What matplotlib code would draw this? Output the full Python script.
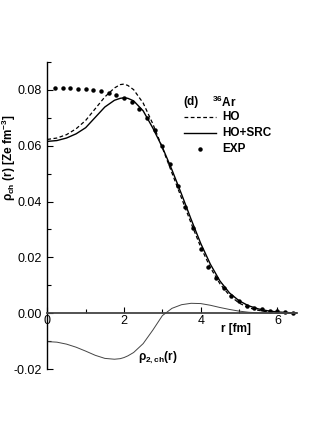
import numpy as np
import matplotlib.pyplot as plt
from matplotlib.ticker import MultipleLocator, FuncFormatter

plt.rcParams['font.family'] = ['Liberation Sans', 'DejaVu Sans']
plt.rcParams['mathtext.fontset'] = 'custom'
plt.rcParams['mathtext.rm'] = 'Liberation Sans'
plt.rcParams['mathtext.bf'] = 'Liberation Sans:bold'

# Радіальна сітка для кривих (fm)
r_curve = [0.0, 0.25, 0.5, 0.75, 1.0, 1.25, 1.5, 1.75, 1.9, 2.0, 2.1, 2.25, 2.5, 2.75, 3.0,
           3.25, 3.5, 3.75, 4.0, 4.25, 4.5, 4.75, 5.0, 5.25, 5.5, 5.75, 6.0, 6.25, 6.5]

# HO (штрихова)
rho_ho = [0.0622, 0.0627, 0.0639, 0.0660, 0.0690, 0.0732, 0.0774, 0.0806, 0.0818, 0.0820,
          0.0815, 0.0800, 0.0752, 0.0678, 0.0592, 0.0502, 0.0412, 0.0322, 0.0237, 0.0164,
          0.0106, 0.0064, 0.0037, 0.0020, 0.0011, 0.0005, 0.0003, 0.0001, 0.0]

# HO+SRC (суцільна)
rho_src = [0.0615, 0.0618, 0.0627, 0.0642, 0.0664, 0.0701, 0.0738, 0.0762, 0.0769, 0.0771,
           0.0769, 0.0760, 0.0724, 0.0663, 0.0594, 0.0513, 0.0426, 0.0336, 0.0250, 0.0176,
           0.0116, 0.0073, 0.0045, 0.0027, 0.0016, 0.0009, 0.0005, 0.0003, 0.0001]

# rho_2,ch(r)
rho_2 = [-0.0101, -0.0103, -0.0110, -0.0121, -0.0135, -0.0150, -0.0161, -0.0164, -0.0162,
         -0.0158, -0.0152, -0.0140, -0.0108, -0.0060, -0.0008, 0.0018, 0.0031, 0.0036,
         0.0035, 0.0029, 0.0021, 0.0014, 0.0008, 0.0004, 0.0002, 0.0001, 0.0, 0.0, 0.0]

# Експериментальні точки
r_exp = [0.2, 0.4, 0.6, 0.8, 1.0, 1.2, 1.4, 1.6, 1.8, 2.0, 2.2, 2.4, 2.6, 2.8, 3.0,
         3.2, 3.4, 3.6, 3.8, 4.0, 4.2, 4.4, 4.6, 4.8, 5.0, 5.2, 5.4, 5.6, 5.8, 6.0,
         6.2, 6.4]
rho_exp = [0.0806, 0.0806, 0.0805, 0.0804, 0.0803, 0.0800, 0.0794, 0.0788, 0.0780,
           0.0770, 0.0755, 0.0731, 0.0698, 0.0655, 0.0598, 0.0533, 0.0457, 0.0381,
           0.0304, 0.0229, 0.0166, 0.0125, 0.0089, 0.0062, 0.0044, 0.0027, 0.0019,
           0.0014, 0.0010, 0.0007, 0.0004, 0.0002]

fig = plt.figure(figsize=(3.27, 4.36), dpi=100)
ax = fig.add_axes([0.1447, 0.153, 0.7624, 0.7055])

ax.plot(r_curve, rho_ho, 'k--', lw=0.9, dashes=(3, 2))
ax.plot(r_curve, rho_src, 'k-', lw=1.0)
ax.plot(r_exp, rho_exp, 'ko', ms=2.2, ls='none')
ax.plot(r_curve, rho_2, color='#444444', lw=0.7)

ax.set_xlim(0, 6.5)
ax.set_ylim(-0.02, 0.09)

ax.spines['top'].set_visible(False)
ax.spines['right'].set_visible(False)
ax.spines['bottom'].set_position(('data', 0))
ax.spines['bottom'].set_color('#444444')
ax.spines['bottom'].set_linewidth(1.3)
ax.spines['left'].set_linewidth(1.0)

ax.xaxis.set_major_locator(MultipleLocator(2))
ax.xaxis.set_minor_locator(MultipleLocator(1))
ax.yaxis.set_major_locator(MultipleLocator(0.02))
ax.yaxis.set_minor_locator(MultipleLocator(0.01))
ax.yaxis.set_major_formatter(FuncFormatter(lambda v, p: '%.2f' % v))
ax.xaxis.set_major_formatter(FuncFormatter(lambda v, p: '%d' % v))
ax.tick_params(which='both', direction='in', labelsize=9)
ax.tick_params(which='major', length=4, width=0.8)
ax.tick_params(which='minor', length=3, width=0.8)
ax.tick_params(axis='x', pad=1.0)
ax.tick_params(axis='y', pad=4)

ax.set_ylabel(r'$\mathregular{ρ_{\mathbf{ch}}}$ (r) [Ze fm$^{\mathbf{-3}}$]', fontsize=8.5,
              fontweight='bold')
ax.yaxis.set_label_coords(-0.118, 0.687)

ax.text(4.93, -0.0035, 'r [fm]', fontsize=8.5, fontweight='bold', ha='center', va='top')
ax.text(2.87, -0.016, r'$\mathregular{ρ_{\mathbf{2,ch}}}$(r)', fontsize=8.5,
        fontweight='bold', ha='center', va='center')

# Легенда
ax.text(3.56, 0.0755, '(d)', fontsize=8.5, fontweight='bold', va='center')
ax.text(4.3, 0.0755, r'$^{\mathbf{36}}$Ar', fontsize=8.5, fontweight='bold', va='center')
ax.plot([3.57, 4.4], [0.0701, 0.0701], 'k--', lw=0.9, dashes=(3, 2))
ax.text(4.57, 0.0701, 'HO', fontsize=8.5, fontweight='bold', va='center')
ax.plot([3.57, 4.4], [0.0645, 0.0645], 'k-', lw=1.0)
ax.text(4.57, 0.0645, 'HO+SRC', fontsize=8.5, fontweight='bold', va='center')
ax.plot([3.97], [0.0588], 'ko', ms=2.2)
ax.text(4.57, 0.0588, 'EXP', fontsize=8.5, fontweight='bold', va='center')

fig.savefig('out.png', dpi=100)
